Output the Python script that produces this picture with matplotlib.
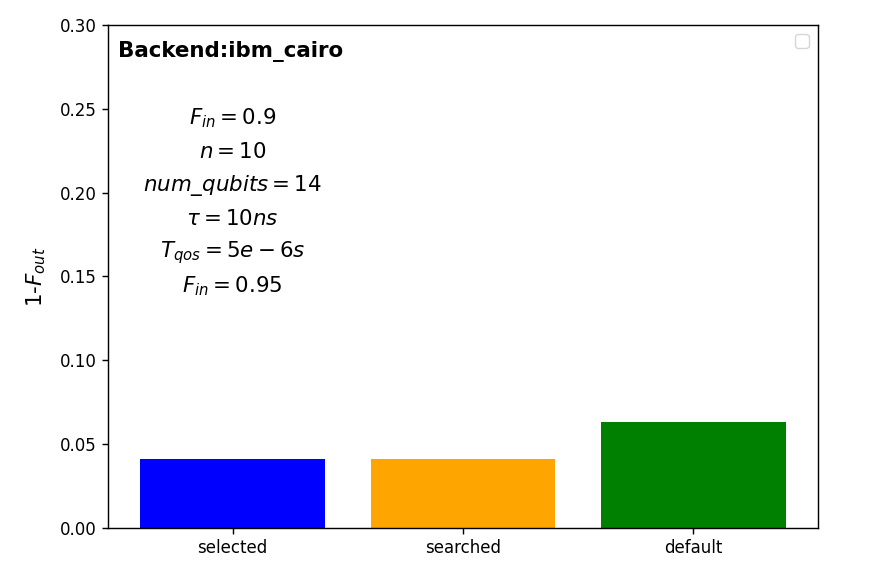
import matplotlib
matplotlib.use("Agg")
import matplotlib.pyplot as plt
import warnings

categories = ["selected", "searched", "default"]
values = [0.041, 0.041, 0.0634]
colors = ["blue", "orange", "green"]
info_lines = [r"$F_{in}=0.9$", r"$n=10$", r"$num\_qubits=14$", r"$\tau=10ns$",
              r"$T_{qos}=5e-6s$", r"$F_{in}=0.95$"]
info_y = [0.2445, 0.2245, 0.2045, 0.1845, 0.1645, 0.1445]

s = 1.28
plt.rcParams.update({
    "xtick.labelsize": 12, "ytick.labelsize": 12,
    "xtick.major.size": 3.5 * s, "ytick.major.size": 3.5 * s,
    "xtick.major.width": 0.8 * s, "ytick.major.width": 0.8 * s,
    "axes.linewidth": 0.8 * s,
})

fig = plt.figure(figsize=(8.86, 5.71), dpi=100)
ax = fig.add_axes([0.122, 0.0753, 0.801, 0.881])
ax.bar(categories, values, color=colors, width=0.8)
ax.set_ylim(0, 0.30)
ax.set_ylabel(r"1-$F_{out}$", fontsize=12 * s, labelpad=9)
ax.text(0.014, 0.968, "Backend:ibm_cairo", transform=ax.transAxes, fontsize=12 * s,
        fontweight="bold", ha="left", va="top")
for line, y in zip(info_lines, info_y):
    ax.text(0, y, line, ha="center", va="center", fontsize=12 * s)
with warnings.catch_warnings():
    warnings.simplefilter("ignore")
    ax.legend(loc="upper right", fontsize=10 * s)
fig.savefig("out.png", dpi=100)
